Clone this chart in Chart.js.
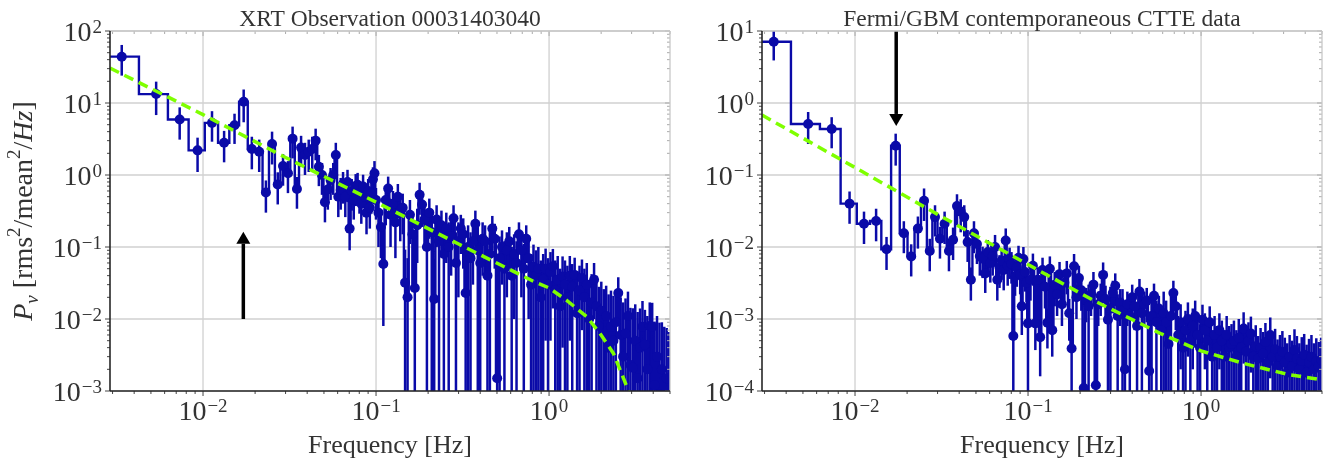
<!DOCTYPE html>
<html>
<head>
<meta charset="utf-8">
<title>XRT / GBM power spectra</title>
<script src="https://cdn.jsdelivr.net/npm/chart.js@4.4.1/dist/chart.umd.min.js"></script>
<style>
  html, body { margin: 0; padding: 0; background: #ffffff; }
  #wrap { position: relative; width: 1327px; height: 462px; overflow: hidden; }
  canvas { position: absolute; top: 0; }
  #c-xrt { left: 0; }
  #c-gbm { left: 680px; }
</style>
</head>
<body>
<div id="wrap">
  <canvas id="c-xrt" width="680" height="462"></canvas>
  <canvas id="c-gbm" width="647" height="462"></canvas>
</div>
<script>
// ─── Data ─────────────────────────────────────────────────────────────────────

const X_MIN = 0.0029;
const X_MAX = 5.0;

// Frequency bins [Hz], shared by both spectra
const freqHz = [
  0.00339, 0.00536, 0.00733, 0.0093, 0.01127, 0.01324, 0.01521, 0.01718, 0.01915, 0.02112,
  0.02309, 0.02506, 0.02703, 0.029, 0.03097, 0.03294, 0.03491, 0.03688, 0.03885, 0.04082,
  0.04279, 0.04476, 0.04673, 0.0487, 0.05067, 0.05264, 0.05461, 0.05658, 0.05855, 0.06052,
  0.06249, 0.06446, 0.06643, 0.0684, 0.07037, 0.07234, 0.07431, 0.07628, 0.07825, 0.08022,
  0.08219, 0.08416, 0.08613, 0.0881, 0.09007, 0.09204, 0.09401, 0.09598, 0.09795, 0.09992,
  0.1033, 0.1067, 0.1102, 0.1138, 0.1175, 0.1213, 0.1253, 0.1294, 0.1337, 0.138,
  0.1426, 0.1472, 0.1521, 0.157, 0.1622, 0.1675, 0.173, 0.1786, 0.1845, 0.1905,
  0.1968, 0.2032, 0.2099, 0.2168, 0.2239, 0.2312, 0.2388, 0.2466, 0.2547, 0.263,
  0.2716, 0.2805, 0.2897, 0.2992, 0.309, 0.3192, 0.3296, 0.3404, 0.3516, 0.3631,
  0.375, 0.3873, 0.4, 0.413, 0.4266, 0.4406, 0.455, 0.4699, 0.4853, 0.5012,
  0.5176, 0.5346, 0.5521, 0.5702, 0.5888, 0.6081, 0.6281, 0.6486, 0.6699, 0.6918,
  0.7145, 0.7379, 0.7621, 0.787, 0.8128, 0.8395, 0.867, 0.8954, 0.9247, 0.955,
  0.9863, 1.019, 1.052, 1.086, 1.122, 1.159, 1.197, 1.236, 1.276, 1.318,
  1.361, 1.406, 1.452, 1.5, 1.549, 1.6, 1.652, 1.706, 1.762, 1.82,
  1.879, 1.941, 2.004, 2.07, 2.138, 2.208, 2.28, 2.355, 2.432, 2.512,
  2.594, 2.679, 2.767, 2.858, 2.951, 3.048, 3.148, 3.251, 3.357, 3.467,
  3.581, 3.698, 3.819, 3.945, 4.074, 4.207, 4.345, 4.487, 4.634, 4.786,
  4.943,
];

// XRT power [rms^2/mean^2/Hz] and 1-sigma errors
const xrtPower = [
  44, 13.3, 5.9, 2.2, 5.3, 2.8, 4.9, 10.4, 2.3, 2.1,
  0.57, 2.7, 0.74, 1.33, 1.06, 3.2, 0.64, 2.4, 1.9, 2.1,
  2.3, 3.0, 1.3, 1.0, 0.42, 0.63, 0.85, 1.0, 1.9, 0.5,
  0.62, 0.75, 0.5, 0.8, 0.18, 0.6, 0.45, 0.7, 0.73, 0.55,
  0.4, 0.69, 0.5, 0.3, 0.6, 0.35, 0.55, 0.87, 1.06, 0.45,
  0.30, 0.19, 0.058, 0.45, 0.65, 0.28, 0.4, 0.22, 0.5, 0.3,
  0.35, 0.032, 0.02, 0.28, 0.15, 0.027, 0.2, 0.53, 0.39, 0.24,
  0.1, 0.3, 0.16, 0.019, 0.24, 0.12, 0.2, 0.08, 0.18, 0.1,
  0.14, 0.25, 0.06, 0.12, 0.18, 0.15, 0.023, 0.1, 0.07, 0.12,
  0.21, 0.09, 0.06, 0.13, 0.12, 0.04, 0.08, 0.18, 0.13, 0.0015,
  0.07, 0.1, 0.05, 0.09, 0.12, 0.04, 0.08, 0.06, 0.15, 0.09,
  0.05, 0.13, 0.07, 0.03, 0.053, 0.04, 0.05, 0.02, 0.035, 0.05,
  0.03, 0.045, 0.054, 0.025, 0.035, 0.015, 0.039, 0.03, 0.02, 0.04,
  0.028, 0.041, 0.012, 0.025, 0.037, 0.02, 0.03, 0.01, 0.017, 0.035,
  0.015, 0.008, 0.013, 0.006, 0.011, 0.004, 0.0078, 0.005, 0.009, 0.023,
  0.006, 0.003, 0.0063, 0.011, 0.0023, 0.0021, 0.005, 0.0015, 0.004, 0.0078,
  0.0044, 0.002, 0.008, 0.0078, 0.0012, 0.003, 0.0009, 0.002, 0.0008, 0.0015,
  0.0006,
];
const xrtError = [
  20, 6.5, 2.8, 1.1, 2.4, 1.3, 2.2, 5.0, 1.1, 1.0,
  0.27, 1.3, 0.35, 0.62, 0.5, 1.5, 0.3, 1.1, 0.9, 1.0,
  1.1, 1.4, 0.6, 0.47, 0.2, 0.3, 0.4, 0.47, 0.9, 0.24,
  0.29, 0.35, 0.24, 0.38, 0.09, 0.28, 0.21, 0.33, 0.34, 0.26,
  0.19, 0.32, 0.24, 0.15, 0.28, 0.17, 0.26, 0.41, 0.5, 0.21,
  0.2, 0.12, 0.05, 0.25, 0.3, 0.18, 0.2, 0.15, 0.25, 0.18,
  0.2, 0.06, 0.05, 0.17, 0.12, 0.04, 0.14, 0.25, 0.2, 0.15,
  0.12, 0.17, 0.16, 0.05, 0.14, 0.13, 0.12, 0.1, 0.12, 0.12,
  0.1, 0.13, 0.1, 0.1, 0.1, 0.1, 0.06, 0.1, 0.09, 0.09,
  0.11, 0.1, 0.08, 0.09, 0.08, 0.07, 0.08, 0.09, 0.08, 0.05,
  0.07, 0.07, 0.07, 0.07, 0.07, 0.06, 0.07, 0.06, 0.07, 0.07,
  0.06, 0.07, 0.06, 0.05, 0.055, 0.05, 0.05, 0.045, 0.045, 0.045,
  0.04, 0.04, 0.04, 0.04, 0.04, 0.035, 0.035, 0.035, 0.035, 0.035,
  0.03, 0.03, 0.03, 0.03, 0.03, 0.03, 0.03, 0.025, 0.025, 0.025,
  0.025, 0.02, 0.02, 0.02, 0.018, 0.018, 0.017, 0.016, 0.016, 0.015,
  0.014, 0.014, 0.013, 0.013, 0.012, 0.012, 0.011, 0.011, 0.01, 0.01,
  0.009, 0.009, 0.009, 0.009, 0.008, 0.008, 0.008, 0.007, 0.007, 0.006,
  0.006,
];

// Fermi/GBM power and 1-sigma errors
const gbmPower = [
  7.1, 0.51, 0.435, 0.040, 0.021, 0.023, 0.0093, 0.255, 0.0155, 0.0074,
  0.018, 0.044, 0.0088, 0.026, 0.013, 0.021, 0.0088, 0.0126, 0.037, 0.031,
  0.026, 0.0117, 0.0035, 0.0155, 0.011, 0.0075, 0.0069, 0.0043, 0.0085, 0.006,
  0.0075, 0.01, 0.0035, 0.0052, 0.0065, 0.0048, 0.0123, 0.0055, 0.0067, 0.0058,
  0.00058, 0.0039, 0.0052, 0.0071, 0.0042, 0.0015, 0.0068, 0.0045, 0.0032, 0.00087,
  0.0035, 0.0055, 0.00087, 0.0035, 0.00056, 0.0048, 0.0028, 0.00089, 0.005, 0.0007,
  0.003, 0.0022, 0.0042, 0.0016, 0.0032, 0.0043, 0.0012, 0.00039, 0.0054, 0.002,
  0.0037, 0.0025, 0.00011, 0.0018, 0.0015, 0.0022, 0.003, 0.00012, 0.0016, 0.0021,
  0.0041, 0.0019, 0.00098, 0.0014, 0.0023, 0.0029, 0.0011, 0.0017, 0.0013, 0.0002,
  0.0016, 0.0011, 0.002, 0.0015, 0.0008, 0.0024, 0.0012, 0.0016, 0.0018, 0.00019,
  0.0011, 0.0021, 0.0009, 0.0014, 0.0007, 0.0012, 0.0009, 0.00045, 0.0011, 0.0023,
  0.0015, 0.0006, 0.0009, 0.0004, 0.0007, 0.001, 0.0005, 0.0008, 0.0011, 0.0006,
  0.0004, 0.00098, 0.0007, 0.0005, 0.0009, 0.0003, 0.0006, 0.0004, 0.0007, 0.0005,
  0.0003, 0.0006, 0.0004, 0.00045, 0.0005, 0.0003, 0.00055, 0.0004, 0.00074, 0.00035,
  0.0005, 0.00063, 0.0003, 0.00042, 0.00028, 0.0004, 0.00033, 0.00048, 0.00025, 0.0006,
  0.0003, 0.00038, 0.00022, 0.0003, 0.00035, 0.00025, 0.00018, 0.0003, 0.00022, 0.00037,
  0.00028, 0.0002, 0.00026, 0.00032, 0.00018, 0.00025, 0.0003, 0.0002, 0.00026, 0.00022,
  0.00027,
];
const gbmError = [
  3.2, 0.24, 0.2, 0.019, 0.01, 0.011, 0.0045, 0.12, 0.0073, 0.0035,
  0.0085, 0.021, 0.0042, 0.012, 0.0061, 0.01, 0.0042, 0.006, 0.017, 0.015,
  0.012, 0.0055, 0.0017, 0.0073, 0.0052, 0.0035, 0.0032, 0.002, 0.004, 0.0028,
  0.0035, 0.0047, 0.0017, 0.0025, 0.003, 0.0023, 0.0058, 0.0026, 0.0031, 0.0027,
  0.0005, 0.0018, 0.0024, 0.0033, 0.002, 0.0009, 0.0032, 0.0021, 0.0015, 0.0008,
  0.0017, 0.0026, 0.0005, 0.0017, 0.0004, 0.0023, 0.0014, 0.0005, 0.0024, 0.0004,
  0.0015, 0.0011, 0.002, 0.0008, 0.0016, 0.0021, 0.0007, 0.0003, 0.0026, 0.001,
  0.0018, 0.0012, 0.0004, 0.0009, 0.0015, 0.0011, 0.0015, 0.0004, 0.0008, 0.001,
  0.002, 0.001, 0.0009, 0.0014, 0.0011, 0.0014, 0.0011, 0.0009, 0.0013, 0.0004,
  0.0008, 0.0011, 0.001, 0.0008, 0.0008, 0.0012, 0.0012, 0.0008, 0.0009, 0.0004,
  0.0011, 0.001, 0.0009, 0.0007, 0.0007, 0.0012, 0.0009, 0.0005, 0.0011, 0.0011,
  0.0008, 0.0005, 0.0007, 0.0004, 0.0006, 0.0007, 0.0005, 0.0006, 0.0007, 0.0005,
  0.00045, 0.0006, 0.0005, 0.00045, 0.0006, 0.0004, 0.0005, 0.0004, 0.0005, 0.00045,
  0.0004, 0.0005, 0.0004, 0.0004, 0.00045, 0.0004, 0.00045, 0.0004, 0.0005, 0.00035,
  0.0004, 0.00045, 0.00035, 0.0004, 0.0003, 0.00035, 0.00033, 0.0004, 0.0003, 0.00045,
  0.00032, 0.00035, 0.0003, 0.0003, 0.00033, 0.0003, 0.00028, 0.0003, 0.00028, 0.00035,
  0.0003, 0.00026, 0.0003, 0.0003, 0.00026, 0.00028, 0.0003, 0.00026, 0.00028, 0.00026,
  0.00028,
];

// Best-fit models (green dashed)
const xrtModelFreq  = [0.0029, 0.01, 0.03, 0.1, 0.3, 0.8, 1.0, 1.27, 1.65, 1.97, 2.36, 2.88, 3.3];
const xrtModelPower = [30.6, 6.9, 1.75, 0.42, 0.11, 0.034, 0.027, 0.018, 0.0108, 0.0063, 0.0033, 0.001, 0.0004];
const gbmModelFreq  = [0.0029, 0.01, 0.03, 0.1, 0.24, 0.59, 1.0, 1.78, 3.17, 5.0];
const gbmModelPower = [0.68, 0.127, 0.0284, 0.0057, 0.0018, 0.00062, 0.00036, 0.00024, 0.00017, 0.000143];

// Decade exponents used for ticks
const freqTickExps = [-2, -1, 0];
const xrtPowerExps = [-3, -2, -1, 0, 1, 2];
const gbmPowerExps = [-4, -3, -2, -1, 0, 1];

// Arrows marking the QPO bin
const xrtArrow = { freq: 0.0171, from: 0.01, to: 0.163 };
const gbmArrow = { freq: 0.0173, from: 10, to: 0.48 };

// ─── Style ────────────────────────────────────────────────────────────────────

const SERIF = '"Liberation Serif", "DejaVu Serif", serif';
const BLUE = '#0a0aa8';
const GREEN = '#7fff00';
const TEXT = '#333333';
const GRID = '#d0d0d0';

function line(ctx, x0, y0, x1, y1) {
  ctx.beginPath();
  ctx.moveTo(x0, y0);
  ctx.lineTo(x1, y1);
  ctx.stroke();
}

function decadeTicks(min, max) {
  const out = [];
  for (let e = Math.floor(Math.log10(min)); e <= Math.ceil(Math.log10(max)); e++) {
    for (let m = 1; m < 10; m++) {
      const v = m * Math.pow(10, e);
      if (v >= min * 0.999 && v <= max * 1.001) out.push({ v, major: m === 1 });
    }
  }
  return out;
}

// "10" with a raised exponent
function powerLabel(ctx, exp, x, baseY, align) {
  const sup = exp < 0 ? '\u2212' + (-exp) : String(exp);
  ctx.font = `28px ${SERIF}`;
  const bw = ctx.measureText('10').width;
  ctx.font = `19px ${SERIF}`;
  const sw = ctx.measureText(sup).width;
  const total = bw + 1 + sw;
  const x0 = align === 'right' ? x - total : x - total / 2;
  ctx.textAlign = 'left';
  ctx.textBaseline = 'alphabetic';
  ctx.fillStyle = TEXT;
  ctx.font = `28px ${SERIF}`;
  ctx.fillText('10', x0, baseY);
  ctx.font = `19px ${SERIF}`;
  ctx.fillText(sup, x0 + bw + 1, baseY - 8);
}

function drawYTitle(ctx, bx, cy) {
  const parts = [
    { t: 'P', f: `italic 28px ${SERIF}`, dy: 0 },
    { t: '\u03bd', f: `italic 19px ${SERIF}`, dy: 6 },
    { t: ' [rms', f: `28px ${SERIF}`, dy: 0 },
    { t: '2', f: `19px ${SERIF}`, dy: -12 },
    { t: '/mean', f: `28px ${SERIF}`, dy: 0 },
    { t: '2', f: `19px ${SERIF}`, dy: -12 },
    { t: '/', f: `28px ${SERIF}`, dy: 0 },
    { t: 'Hz', f: `italic 28px ${SERIF}`, dy: 0 },
    { t: ']', f: `28px ${SERIF}`, dy: 0 },
  ];
  let total = 0;
  parts.forEach((p) => { ctx.font = p.f; p.w = ctx.measureText(p.t).width; total += p.w; });
  ctx.save();
  ctx.translate(bx, cy);
  ctx.rotate(-Math.PI / 2);
  ctx.fillStyle = TEXT;
  ctx.textAlign = 'left';
  ctx.textBaseline = 'alphabetic';
  let x = -total / 2;
  parts.forEach((p) => { ctx.font = p.f; ctx.fillText(p.t, x, p.dy); x += p.w; });
  ctx.restore();
}

function drawArrow(ctx, x, yTail, yTip) {
  const dir = Math.sign(yTip - yTail);
  const head = 12;
  const half = 7;
  ctx.strokeStyle = '#000';
  ctx.fillStyle = '#000';
  ctx.lineWidth = 3.5;
  line(ctx, x, yTail, x, yTip - dir * head);
  ctx.beginPath();
  ctx.moveTo(x, yTip);
  ctx.lineTo(x - half, yTip - dir * head);
  ctx.lineTo(x + half, yTip - dir * head);
  ctx.closePath();
  ctx.fill();
}

// ─── Plugins ──────────────────────────────────────────────────────────────────

const gridPlugin = {
  id: 'grid',
  beforeDatasetsDraw(chart, args, opts) {
    const { ctx, chartArea: a, scales: { x, y } } = chart;
    ctx.save();
    ctx.strokeStyle = GRID;
    ctx.lineWidth = 1.3;
    freqTickExps.forEach((e) => {
      const px = x.getPixelForValue(Math.pow(10, e));
      line(ctx, px, a.top, px, a.bottom);
    });
    opts.yExps.forEach((e) => {
      const py = y.getPixelForValue(Math.pow(10, e));
      line(ctx, a.left, py, a.right, py);
    });
    ctx.restore();
  },
};

const errorBarPlugin = {
  id: 'errorBars',
  beforeDatasetsDraw(chart, args, opts) {
    const { ctx, chartArea: a, scales: { x, y } } = chart;
    ctx.save();
    ctx.beginPath();
    ctx.rect(a.left, a.top, a.width, a.height);
    ctx.clip();
    ctx.strokeStyle = BLUE;
    ctx.lineWidth = 2.5;
    opts.power.forEach((p, i) => {
      const px = x.getPixelForValue(freqHz[i]);
      const lo = p - opts.error[i];
      const top = y.getPixelForValue(p + opts.error[i]);
      const bottom = lo > 0 ? y.getPixelForValue(lo) : a.bottom + 2;
      line(ctx, px, top, px, bottom);
    });
    ctx.restore();
  },
};

const framePlugin = {
  id: 'frame',
  afterDatasetsDraw(chart, args, opts) {
    const { ctx, chartArea: a, scales: { x, y } } = chart;
    ctx.save();

    // arrow
    const ax = x.getPixelForValue(opts.arrow.freq);
    drawArrow(ctx, ax, y.getPixelForValue(opts.arrow.from), y.getPixelForValue(opts.arrow.to));

    // minor / major ticks
    const yMin = Math.pow(10, opts.yExps[0]);
    const yMax = Math.pow(10, opts.yExps[opts.yExps.length - 1]);
    ctx.lineWidth = 1;
    decadeTicks(X_MIN, X_MAX).forEach((t) => {
      const px = x.getPixelForValue(t.v);
      const len = t.major ? 5 : 3;
      ctx.strokeStyle = '#444';
      line(ctx, px, a.bottom, px, a.bottom + len);
      ctx.strokeStyle = '#aaa';
      line(ctx, px, a.top, px, a.top + len);
    });
    decadeTicks(yMin, yMax).forEach((t) => {
      const py = y.getPixelForValue(t.v);
      const len = t.major ? 5 : 3;
      ctx.strokeStyle = '#444';
      line(ctx, a.left - len, py, a.left, py);
      ctx.strokeStyle = '#aaa';
      line(ctx, a.right - len, py, a.right, py);
    });

    // spines
    ctx.strokeStyle = '#c8c8c8';
    ctx.lineWidth = 1.3;
    line(ctx, a.left, a.top, a.right, a.top);
    line(ctx, a.right, a.top, a.right, a.bottom);
    ctx.strokeStyle = '#262626';
    ctx.lineWidth = 1.6;
    line(ctx, a.left, a.top, a.left, a.bottom);
    line(ctx, a.left, a.bottom, a.right, a.bottom);

    // tick labels
    freqTickExps.forEach((e) => powerLabel(ctx, e, x.getPixelForValue(Math.pow(10, e)), a.bottom + 29, 'center'));
    opts.yExps.forEach((e) => powerLabel(ctx, e, a.left - 8, y.getPixelForValue(Math.pow(10, e)) + 10, 'right'));

    // titles
    const cx = (a.left + a.right) / 2;
    ctx.fillStyle = TEXT;
    ctx.textAlign = 'center';
    ctx.textBaseline = 'alphabetic';
    ctx.font = `23.5px ${SERIF}`;
    ctx.fillText(opts.title, cx, 26);
    ctx.font = `26px ${SERIF}`;
    ctx.fillText('Frequency [Hz]', cx, 453);
    if (opts.yTitle) drawYTitle(ctx, 32, (a.top + a.bottom) / 2);

    ctx.restore();
  },
};

// ─── Panels ───────────────────────────────────────────────────────────────────

const panels = [
  {
    canvas: 'c-xrt', title: 'XRT Observation 00031403040',
    power: xrtPower, error: xrtError, modelFreq: xrtModelFreq, modelPower: xrtModelPower,
    yExps: xrtPowerExps, arrow: xrtArrow, padLeft: 110, padRight: 10, yTitle: true,
  },
  {
    canvas: 'c-gbm', title: 'Fermi/GBM contemporaneous CTTE data',
    power: gbmPower, error: gbmError, modelFreq: gbmModelFreq, modelPower: gbmModelPower,
    yExps: gbmPowerExps, arrow: gbmArrow, padLeft: 82, padRight: 5, yTitle: false,
  },
];

function renderPanel(p) {
  const points = freqHz.map((f, i) => ({ x: f, y: p.power[i] }));
  const stepData = [{ x: X_MIN, y: p.power[0] }, ...points];
  const model = p.modelFreq.map((f, i) => ({ x: f, y: p.modelPower[i] }));

  return new Chart(document.getElementById(p.canvas), {
    type: 'line',
    data: {
      datasets: [
        {
          label: 'model',
          data: model,
          borderColor: GREEN,
          borderWidth: 3.5,
          borderDash: [10, 6],
          pointRadius: 0,
          fill: false,
          order: 0,
        },
        {
          label: 'power',
          data: stepData,
          stepped: 'middle',
          borderColor: BLUE,
          borderWidth: 2.4,
          pointRadius: (c) => (c.dataIndex === 0 ? 0 : 5),
          pointBackgroundColor: BLUE,
          pointBorderColor: BLUE,
          pointBorderWidth: 0,
          fill: false,
          order: 1,
        },
      ],
    },
    options: {
      responsive: false,
      animation: false,
      devicePixelRatio: 1,
      layout: { padding: { left: p.padLeft, right: p.padRight, top: 31, bottom: 71 } },
      scales: {
        x: { type: 'logarithmic', min: X_MIN, max: X_MAX, display: false },
        y: {
          type: 'logarithmic',
          min: Math.pow(10, p.yExps[0]),
          max: Math.pow(10, p.yExps[p.yExps.length - 1]),
          display: false,
        },
      },
      plugins: {
        legend: { display: false },
        tooltip: { enabled: false },
        grid: { yExps: p.yExps },
        errorBars: { power: p.power, error: p.error },
        frame: { yExps: p.yExps, arrow: p.arrow, title: p.title, yTitle: p.yTitle },
      },
    },
    plugins: [gridPlugin, errorBarPlugin, framePlugin],
  });
}

panels.forEach(renderPanel);
</script>
</body>
</html>
